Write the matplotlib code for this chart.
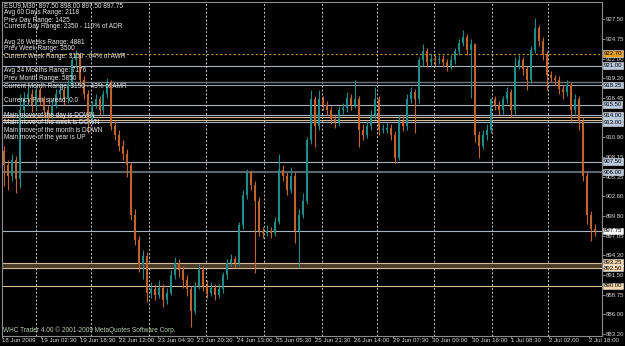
import matplotlib
matplotlib.use("Agg")
import matplotlib.pyplot as plt
import matplotlib.transforms as mtransforms
import numpy as np

FONT = ['Liberation Sans Narrow', 'Liberation Sans', 'DejaVu Sans']
plt.rcParams['font.family'] = FONT

# ---------------- data (ESU9, M30, prices) ----------------
opens = [909.0, 907.0, 905.5, 907.75, 905.0, 914.75, 916.25, 917.0, 915.5, 917.5,
         916.25, 914.75, 914.0, 915.5, 917.0, 917.5, 916.25, 918.25, 921.75, 922.5,
         919.0, 917.0, 913.25, 915.5, 916.25, 914.75, 917.0, 918.75, 912.5, 911.25,
         909.75, 908.5, 907.0, 900.0, 896.5, 893.0, 894.25, 889.0, 889.5, 888.75,
         889.75, 888.0, 889.0, 891.5, 893.25, 892.25, 890.75, 889.5, 886.5, 890.0,
         892.25, 890.0, 889.0, 889.75, 888.75, 889.5, 891.5, 893.25, 893.75, 893.25,
         898.5, 902.75, 906.0, 904.25, 902.0, 897.75, 897.5, 897.75, 897.5, 899.0,
         906.25, 905.5, 903.5, 905.5, 897.75, 900.0, 902.0, 910.5, 916.25, 912.5,
         916.25, 915.5, 914.75, 913.5, 913.0, 914.75, 915.0, 916.5, 915.5, 916.25,
         912.0, 911.25, 912.5, 914.0, 916.25, 912.0, 912.0, 912.25, 911.25, 908.0,
         913.25, 912.5, 916.25, 917.25, 916.25, 921.75, 923.0, 921.5, 922.0, 921.75,
         922.0, 921.5, 921.0, 921.75, 923.0, 924.25, 925.0, 923.25, 924.0, 911.25,
         909.75, 911.25, 912.0, 916.25, 915.5, 914.75, 916.25, 917.25, 914.75, 921.0,
         921.75, 920.5, 919.0, 923.25, 926.25, 924.5, 922.5, 919.75, 919.25, 919.0,
         917.75, 917.25, 918.25, 914.75, 916.25, 913.25, 905.5, 900.0, 898.0]
highs = [909.75, 907.75, 908.5, 908.25, 917.0, 917.25, 918.0, 917.75, 918.25, 918.0,
         916.75, 915.5, 916.25, 917.75, 918.5, 918.0, 919.0, 922.25, 923.25, 922.75,
         919.5, 917.5, 916.0, 917.0, 916.75, 917.5, 919.25, 919.0, 913.25, 912.0,
         910.5, 909.25, 907.5, 900.75, 897.0, 895.0, 894.75, 890.5, 890.25, 890.75,
         890.25, 889.75, 892.25, 894.0, 893.75, 892.75, 891.5, 890.0, 890.5, 893.0,
         892.75, 890.75, 890.5, 890.25, 890.25, 892.0, 893.75, 894.5, 894.25, 899.0,
         903.5, 906.5, 906.25, 904.75, 902.5, 898.25, 898.5, 898.25, 899.75, 908.5,
         907.0, 906.0, 906.75, 906.0, 900.75, 903.0, 911.0, 917.5, 916.75, 917.5,
         916.75, 916.0, 915.25, 914.25, 915.25, 915.75, 917.25, 917.0, 919.0, 916.75,
         912.75, 913.25, 914.75, 918.0, 916.75, 912.75, 913.0, 912.75, 911.75, 914.0,
         914.0, 917.0, 918.0, 917.75, 922.25, 924.0, 923.5, 922.75, 922.5, 922.5,
         922.5, 922.0, 922.5, 923.5, 924.75, 926.0, 925.5, 924.75, 924.25, 911.75,
         912.0, 912.75, 916.5, 916.75, 916.0, 916.75, 918.0, 917.75, 922.25, 922.5,
         922.25, 921.0, 923.75, 927.75, 926.75, 925.0, 923.0, 920.25, 919.75, 919.5,
         918.25, 919.0, 918.75, 917.0, 916.75, 913.75, 906.0, 900.5, 898.75]
lows = [904.0, 903.5, 904.75, 903.0, 903.75, 913.5, 915.25, 914.5, 914.75, 915.5,
        913.75, 913.0, 913.5, 915.0, 916.25, 915.5, 915.75, 918.0, 921.0, 918.5,
        916.25, 911.5, 912.75, 915.0, 914.0, 914.25, 916.5, 912.0, 910.5, 909.0,
        907.75, 905.25, 899.25, 895.75, 892.0, 891.0, 887.75, 888.25, 888.0, 888.25,
        887.0, 887.5, 888.75, 891.0, 891.25, 889.75, 888.5, 884.25, 886.0, 889.5,
        889.25, 888.25, 888.5, 888.0, 888.25, 889.0, 891.0, 892.75, 892.5, 892.75,
        898.0, 902.25, 903.5, 891.75, 897.0, 896.75, 897.0, 896.75, 897.0, 898.75,
        904.75, 902.75, 903.0, 896.0, 892.5, 899.5, 901.5, 910.0, 909.5, 912.0,
        914.75, 914.0, 912.75, 912.25, 912.5, 914.25, 914.5, 914.75, 915.0, 909.5,
        910.5, 910.75, 912.0, 913.5, 911.25, 911.5, 911.5, 910.5, 907.25, 907.75,
        911.75, 912.0, 915.75, 911.5, 915.75, 921.0, 920.75, 921.0, 921.0, 921.25,
        920.75, 920.25, 920.5, 921.25, 922.5, 923.75, 922.5, 916.5, 910.25, 908.0,
        909.25, 910.5, 911.5, 914.75, 914.0, 914.25, 915.75, 913.75, 914.25, 920.5,
        919.75, 917.5, 918.5, 922.75, 923.75, 921.75, 917.5, 918.75, 918.25, 917.0,
        916.25, 916.75, 913.0, 914.25, 912.0, 904.75, 898.75, 896.25, 897.0]
closes = [907.0, 905.5, 907.75, 905.0, 914.75, 916.25, 917.0, 915.5, 917.5, 916.25,
          914.75, 914.0, 915.5, 917.0, 917.5, 916.25, 918.25, 921.75, 922.5, 919.0,
          917.0, 913.25, 915.5, 916.25, 914.75, 917.0, 918.75, 912.5, 911.25, 909.75,
          908.5, 907.0, 900.0, 896.5, 893.0, 894.25, 889.0, 889.5, 888.75, 889.75,
          888.0, 889.0, 891.5, 893.25, 892.25, 890.75, 889.5, 886.5, 890.0, 892.25,
          890.0, 889.0, 889.75, 888.75, 889.5, 891.5, 893.25, 893.75, 893.25, 898.5,
          902.75, 906.0, 904.25, 902.0, 897.75, 897.5, 897.75, 897.5, 899.0, 906.25,
          905.5, 903.5, 905.5, 897.75, 900.0, 902.0, 910.5, 916.25, 912.5, 916.25,
          915.5, 914.75, 913.5, 913.0, 914.75, 915.0, 916.5, 915.5, 916.25, 912.0,
          911.25, 912.5, 914.0, 916.25, 912.0, 912.0, 912.25, 911.25, 908.0, 913.25,
          912.5, 916.25, 917.25, 916.25, 921.75, 923.0, 921.5, 922.0, 921.75, 922.0,
          921.5, 921.0, 921.75, 923.0, 924.25, 925.0, 923.25, 924.0, 911.25, 909.75,
          911.25, 912.0, 916.25, 915.5, 914.75, 916.25, 917.25, 914.75, 921.0, 921.75,
          920.5, 919.0, 923.25, 926.25, 924.5, 922.5, 919.75, 919.25, 919.0, 917.75,
          917.25, 918.25, 914.75, 916.25, 913.25, 905.5, 900.0, 898.0, 897.75]

time_labels = ["18 Jun 2009", "19 Jun 02:30", "19 Jun 18:30", "22 Jun 12:00",
               "23 Jun 04:30", "23 Jun 20:30", "24 Jun 13:00", "25 Jun 05:30",
               "25 Jun 21:30", "26 Jun 14:00", "29 Jun 07:30", "30 Jun 00:00",
               "30 Jun 16:00", "1 Jul 08:30", "2 Jul 02:00", "2 Jul 18:00"]
price_ticks = [883.20, 886.00, 888.75, 891.50, 894.30, 897.05, 899.80, 902.60,
               905.35, 908.15, 910.90, 913.70, 916.45, 919.20, 922.00, 924.75, 927.50]

# horizontal levels
level_prices = [922.70, 921.00, 918.70, 918.25, 915.50, 914.00, 913.70, 913.40,
                913.00, 907.50, 906.00, 897.75, 893.25, 892.50, 890.00]
zone_band = [892.50, 893.25]
box_prices = [922.70, 921.00, 918.25, 915.50, 914.00, 913.00, 907.50, 906.00,
              897.75, 893.25, 892.50, 890.00]

info_lines = ["ESU9,M30  897.50 898.00 897.50 897.75",
              "Avg 60 Days Range: 2118",
              "Prev Day Range: 1425",
              "Current Day Range: 2350 - 110% of ADR",
              "Avg 26 Weeks Range: 4881",
              "Prev Week Range: 3500",
              "Current Week Range: 3150 - 64% of AWR",
              "Avg 24 Months Range: 7176",
              "Prev Month Range: 5850",
              "Current Month Range: 3150 - 43% of AMR",
              "Currency Pair spread: 0.0",
              "Main move of the day is DOWN",
              "Main move of the week is DOWN",
              "Main move of the month is DOWN",
              "Main move of the year is UP"]

# ---------------- styles / layout ----------------
BG = '#000000'
BULL = '#1f8c8a'
BEAR = '#c0642e'
W, H = 625, 346
FS = 4.7
FS_AX = 4.3
FS_X = 4.4

info_y = [6, 12.7, 20, 26.7, 42.3, 49, 56.7, 70.7, 78.3, 86, 100, 115.7, 122.3, 130, 137.3]

level_styles = {
    922.70: dict(color='#c8941c', ls=(0, (2, 2)), lw=0.8),
    921.00: dict(color='#a8b4c0', ls='-', lw=0.8),
    918.70: dict(color='#6c747c', ls='-', lw=1.0),
    918.25: dict(color='#98a2ac', ls='-', lw=0.8),
    915.50: dict(color='#a8b4c0', ls='-', lw=0.8),
    914.00: dict(color='#a8b4c0', ls='-', lw=0.8),
    913.70: dict(color='#d8bc98', ls='-', lw=0.8),
    913.40: dict(color='#d8bc98', ls='-', lw=0.8),
    913.00: dict(color='#a8b4c0', ls='-', lw=0.8),
    907.50: dict(color='#a8b4c0', ls='-', lw=0.8),
    906.00: dict(color='#5c6870', ls='-', lw=1.5),
    897.75: dict(color='#a8b4c0', ls='-', lw=0.8),
    893.25: dict(color='#d8bc98', ls='-', lw=0.8),
    892.50: dict(color='#d8bc98', ls='-', lw=0.8),
    890.00: dict(color='#d8bc98', ls='-', lw=0.8),
}
box_colors = {922.70: '#e8a020', 897.75: '#ffffff',
              893.25: '#f6d8b0', 892.50: '#f6d8b0', 890.00: '#f6d8b0'}
BOX_DEFAULT = '#b8c8de'

fig = plt.figure(figsize=(W / 100, H / 100), dpi=100, facecolor=BG)
ax = fig.add_axes([2 / W, (H - 336) / H, 600 / W, 334 / H], facecolor=BG)

n = len(closes)
idx = np.arange(n)
o = np.array(opens)
c = np.array(closes)
hi = np.array(highs)
lo = np.array(lows)
cols = np.where(c >= o, BULL, BEAR)

# day separators (dashed vertical lines)
for xs in [8.18, 21.93, 36.33, 50.68, 65.08, 79.68, 93.43, 107.83, 122.33, 136.33]:
    ax.axvline(xs, color='#c8c8c8', lw=0.7, ls=(0, (2, 2)), zorder=1)

# zone band
ax.axhspan(zone_band[0], zone_band[1], color='#4a3a28', lw=0, zorder=1.5)
for p in level_prices:
    st = level_styles[p]
    ax.axhline(p, color=st['color'], ls=st['ls'], lw=st['lw'], zorder=2)

# candles
ax.vlines(idx, lo, hi, colors=cols, lw=0.8, zorder=3)
body = np.maximum(np.abs(c - o), 0.12)
ax.bar(idx, body, bottom=np.minimum(o, c), width=0.5, color=cols, lw=0, zorder=3)

ax.set_xlim(-0.25, 149.75)
ax.set_ylim(882.93, 929.96)

# axes styling
for s in ax.spines.values():
    s.set_color('#8c8c8c')
    s.set_linewidth(0.8)

ax.yaxis.tick_right()
ax.set_yticks(price_ticks)
ax.set_yticklabels([f"{v:.2f}" for v in price_ticks])
ax.tick_params(axis='y', colors='#8c8c8c', labelcolor='#d8d8d8', length=2.0,
               width=0.7, pad=0.8, labelsize=FS_AX, direction='out')

xt = [-0.4, 9.4, 19.2, 29.0, 38.7, 48.5, 58.3, 68.1, 77.9, 87.7, 97.5, 107.3,
      117.1, 126.9, 136.6, 146.4]
ax.set_xticks(xt)
ax.set_xticklabels(time_labels)
for lab in ax.get_xticklabels():
    lab.set_horizontalalignment('left')
ax.tick_params(axis='x', colors='#8c8c8c', labelcolor='#d8d8d8', length=1.5,
               width=0.7, pad=0.2, labelsize=FS_X, direction='out')

# price boxes
trans = mtransforms.blended_transform_factory(ax.transAxes, ax.transData)
for p in box_prices:
    ax.text(1.0025, p, f"{p:.2f}", transform=trans, ha='left', va='center',
            fontsize=FS_AX, color='#000000', clip_on=False, zorder=10,
            bbox=dict(boxstyle='square,pad=0.12', fc=box_colors.get(p, BOX_DEFAULT),
                      ec='#e0e0e0', lw=0.4))

# info text
for line, yp in zip(info_lines, info_y):
    fig.text(4 / W, 1 - yp / H, line, color='#e8e8e8', fontsize=FS,
             ha='left', va='center')

fig.text(3 / W, 1 - 330 / H, "WHC Trader 4.00 \u00a9 2001-2009 MetaQuotes Software Corp.",
         color='#b8d0b0', fontsize=FS, ha='left', va='center')

fig.savefig('out.png', dpi=100, facecolor=BG)
